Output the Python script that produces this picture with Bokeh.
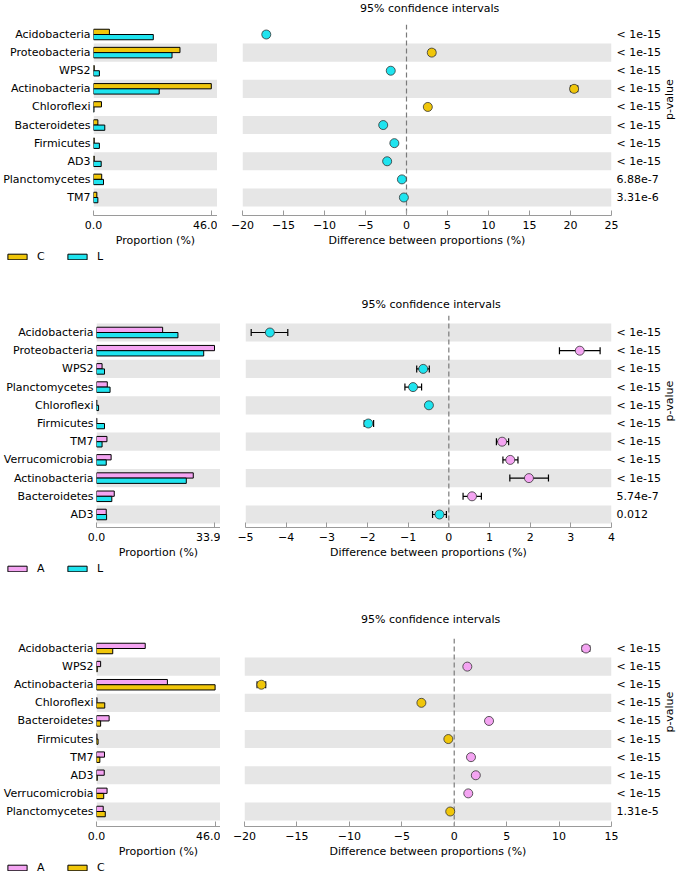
import math
from bokeh.plotting import figure
from bokeh.models import (ColumnDataSource, Range1d, FixedTicker, LinearAxis, Span,
                          Whisker, TeeHead, Legend, LegendItem, CustomJSTickFormatter,
                          PrintfTickFormatter)
from bokeh.transform import dodge
from bokeh.layouts import column, row
from bokeh.embed import file_html
from bokeh.resources import INLINE

FONT = "DejaVu Sans"
GOLD = "#f0c60a"
CYAN = "#1fe4ef"
PINK = "#f4a4f2"
BAND = "#e6e6e6"
AXIS = "#9a9a9a"

# ---------------- Panel 1: C vs L ----------------
names1 = ["Acidobacteria", "Proteobacteria", "WPS2", "Actinobacteria", "Chloroflexi",
          "Bacteroidetes", "Firmicutes", "AD3", "Planctomycetes", "TM7"]
c1 = [6.2, 33.7, 0.3, 45.9, 3.1, 1.7, 0.3, 0.3, 3.2, 1.3]
l1 = [23.3, 30.6, 2.3, 25.6, 0.2, 4.4, 2.3, 3.0, 3.9, 1.7]
diff1 = [-17.1, 3.08, -1.92, 20.44, 2.6, -2.84, -1.48, -2.36, -0.56, -0.32]
lo1 = [-17.45, 2.72, -2.05, 20.0, 2.48, -2.98, -1.6, -2.5, -0.68, -0.42]
hi1 = [-16.75, 3.44, -1.79, 20.88, 2.72, -2.70, -1.36, -2.22, -0.44, -0.22]
pval1 = ["< 1e-15"] * 8 + ["6.88e-7", "3.31e-6"]

# ---------------- Panel 2: A vs L ----------------
names2 = ["Acidobacteria", "Proteobacteria", "WPS2", "Planctomycetes", "Chloroflexi",
          "Firmicutes", "TM7", "Verrucomicrobia", "Actinobacteria", "Bacteroidetes", "AD3"]
a2 = [19.0, 33.9, 1.6, 3.1, 0.1, 0.1, 3.0, 4.2, 27.8, 5.1, 2.8]
l2 = [23.4, 30.8, 2.3, 3.9, 0.6, 2.3, 1.6, 2.8, 25.8, 4.4, 2.9]
diff2 = [-4.40, 3.22, -0.63, -0.88, -0.49, -1.98, 1.31, 1.51, 1.97, 0.57, -0.23]
lo2 = [-4.86, 2.72, -0.79, -1.08, -0.54, -2.08, 1.17, 1.33, 1.50, 0.35, -0.40]
hi2 = [-3.96, 3.72, -0.48, -0.67, -0.44, -1.85, 1.47, 1.70, 2.45, 0.80, -0.06]
pval2 = ["< 1e-15"] * 9 + ["5.74e-7", "0.012"]

# ---------------- Panel 3: A vs C ----------------
names3 = ["Acidobacteria", "WPS2", "Actinobacteria", "Chloroflexi", "Bacteroidetes",
          "Firmicutes", "TM7", "AD3", "Verrucomicrobia", "Planctomycetes"]
a3 = [18.9, 1.6, 27.5, 0.2, 4.9, 0.2, 3.1, 3.0, 4.1, 2.6]
c3 = [6.3, 0.3, 46.0, 3.2, 1.6, 0.6, 1.3, 0.3, 2.8, 3.4]
diff3 = [12.57, 1.25, -18.39, -3.13, 3.32, -0.56, 1.60, 2.06, 1.34, -0.38]
lo3 = [12.22, 1.12, -18.8, -3.27, 3.17, -0.66, 1.47, 1.93, 1.20, -0.52]
hi3 = [12.92, 1.38, -17.98, -2.99, 3.47, -0.46, 1.73, 2.19, 1.48, -0.24]
pval3 = ["< 1e-15"] * 9 + ["1.31e-5"]

prop_axis_max = [46.0, 33.9, 46.0]
diff_ranges = [(-20, 25, 5), (-5, 4, 1), (-20, 15, 5)]
title_text = "95% confidence intervals"

TOTAL_W = 685
DIFF_RIGHT = 617
LEG_H = 14
TITLE_HALF_W = 70


def style_text_axis(ax):
    ax.major_label_text_font = FONT
    ax.major_label_text_font_size = "11px"
    ax.major_label_text_color = "black"
    ax.axis_label_text_font = FONT
    ax.axis_label_text_font_size = "11px"
    ax.axis_label_text_font_style = "normal"
    ax.axis_label_text_color = "black"


def make_panel(names, g1, g1_name, g1_col, g2, g2_name, g2_col, diff, lo, hi, pvals,
               pmax, drange, title_h, H, top, r1, rN, axis_y,
               bar_left, bar_zero_to_max, bar_right, diff_left):
    n = len(names)
    ys = list(range(n - 1, -1, -1))
    s = (rN - r1) / (n - 1)
    y_top = (n - 1) + (r1 - top) / s
    y_bot = -(axis_y - rN) / s
    band_ys = [y for y in ys if y % 2 == 0]
    bottom_border = H - axis_y
    src = ColumnDataSource(dict(y=ys, g1=g1, g2=g2))
    h = 0.29

    # ---------- title strip ----------
    tf = figure(width=TOTAL_W, height=title_h, x_range=Range1d(0, 1), y_range=Range1d(0, 1),
                x_axis_location=None, y_axis_location=None,
                output_backend="svg", toolbar_location=None,
                min_border_left=0, min_border_right=0,
                min_border_top=max(title_h - 1, 0), min_border_bottom=0)
    tf.outline_line_color = None
    tf.grid.visible = False
    tf.title.text = title_text
    tf.title.align = "left"
    tf.title.offset = (diff_left + DIFF_RIGHT) / 2 - TITLE_HALF_W
    tf.title.text_font = FONT
    tf.title.text_font_size = "11px"
    tf.title.text_font_style = "normal"
    tf.title.text_color = "black"
    tf.title.standoff = 0

    # ---------- bar (proportion) figure ----------
    frame_w = bar_right - bar_left
    xr = Range1d(0, pmax * frame_w / bar_zero_to_max)
    bf = figure(width=bar_right, height=H, x_range=xr, y_range=Range1d(y_bot, y_top),
                output_backend="svg", toolbar_location=None,
                min_border_left=bar_left, min_border_right=0, min_border_top=top,
                min_border_bottom=bottom_border)
    bf.outline_line_color = None
    bf.grid.visible = False
    bands = bf.hbar(y=band_ys, left=xr.start, right=xr.end, height=1.0,
                    fill_color=BAND, line_color=None)
    bands.level = "underlay"
    bf.hbar(y=dodge("y", h / 2), left=0, right="g1", height=h, source=src,
            fill_color=g1_col, line_color="black", line_width=1)
    bf.hbar(y=dodge("y", -h / 2), left=0, right="g2", height=h, source=src,
            fill_color=g2_col, line_color="black", line_width=1)

    yax = bf.yaxis[0]
    yax.ticker = FixedTicker(ticks=ys)
    yax.major_label_overrides = {y: nm for y, nm in zip(ys, names)}
    yax.axis_line_color = None
    yax.major_tick_line_color = None
    yax.minor_tick_line_color = None
    yax.major_tick_out = 0
    yax.major_tick_in = 0
    yax.minor_tick_out = 0
    yax.minor_tick_in = 0
    yax.major_label_standoff = 3
    style_text_axis(yax)

    xax = bf.xaxis[0]
    xax.ticker = FixedTicker(ticks=[0, pmax])
    xax.formatter = PrintfTickFormatter(format="%.1f")
    xax.axis_label = "Proportion (%)"
    xax.axis_line_color = AXIS
    xax.major_tick_line_color = AXIS
    xax.major_tick_in = 5
    xax.major_tick_out = 0
    xax.minor_tick_line_color = None
    xax.axis_label_standoff = 2
    style_text_axis(xax)

    # ---------- difference figure ----------
    d0, d1, dstep = drange
    df = figure(width=TOTAL_W - bar_right, height=H, x_range=Range1d(d0, d1),
                y_range=Range1d(y_bot, y_top), y_axis_location=None,
                output_backend="svg", toolbar_location=None,
                min_border_left=diff_left - bar_right,
                min_border_right=TOTAL_W - DIFF_RIGHT, min_border_top=top,
                min_border_bottom=bottom_border)
    df.outline_line_color = None
    df.grid.visible = False
    dbands = df.hbar(y=band_ys, left=d0, right=d1, height=1.0,
                     fill_color=BAND, line_color=None)
    dbands.level = "underlay"
    zero = Span(location=0, dimension="height", line_color="#7a7a7a",
                line_dash="5 3", line_width=1.2, level="underlay")
    df.add_layout(zero)

    cols = [g1_col if d > 0 else g2_col for d in diff]
    dsrc = ColumnDataSource(dict(y=ys, d=diff, lo=lo, hi=hi, c=cols))
    wh = Whisker(base="y", lower="lo", upper="hi", dimension="width", source=dsrc,
                 line_color="black", line_width=1.2, level="underlay",
                 upper_head=TeeHead(size=7, line_color="black", line_width=1.2),
                 lower_head=TeeHead(size=7, line_color="black", line_width=1.2))
    df.add_layout(wh)
    df.scatter(x="d", y="y", source=dsrc, size=9, fill_color="c",
               line_color="#333333", line_width=0.8)

    dx = df.xaxis[0]
    dx.ticker = FixedTicker(ticks=list(range(d0, d1 + 1, dstep)))
    dx.formatter = CustomJSTickFormatter(
        code="return (tick < 0 ? '\u2212' : '') + Math.abs(tick).toString();")
    dx.axis_label = "Difference between proportions (%)"
    dx.axis_line_color = AXIS
    dx.major_tick_line_color = AXIS
    dx.major_tick_in = 5
    dx.major_tick_out = 0
    dx.minor_tick_line_color = None
    dx.axis_label_standoff = 2
    style_text_axis(dx)

    rax = LinearAxis(ticker=FixedTicker(ticks=ys),
                     major_label_overrides={y: pv for y, pv in zip(ys, pvals)},
                     axis_label="p-value")
    rax.axis_line_color = None
    rax.major_tick_line_color = None
    rax.minor_tick_line_color = None
    rax.major_tick_out = 0
    rax.major_tick_in = 0
    rax.minor_tick_out = 0
    rax.minor_tick_in = 0
    rax.major_label_standoff = 5
    rax.axis_label_standoff = 6
    style_text_axis(rax)
    try:
        rax.axis_label_orientation = math.pi / 2
    except Exception:
        pass
    df.add_layout(rax, "right")

    # ---------- legend strip ----------
    lf = figure(width=TOTAL_W, height=LEG_H, x_range=Range1d(0, 1), y_range=Range1d(0, 1),
                x_axis_location=None, y_axis_location=None,
                output_backend="svg", toolbar_location=None,
                min_border_left=0, min_border_right=0, min_border_top=0,
                min_border_bottom=0)
    lf.outline_line_color = None
    lf.grid.visible = False
    lr1 = lf.hbar(y="y", left=0, right="g1", height=h, source=src,
                  fill_color=g1_col, line_color="black", line_width=1, visible=False)
    lr2 = lf.hbar(y="y", left=0, right="g2", height=h, source=src,
                  fill_color=g2_col, line_color="black", line_width=1, visible=False)
    leg = Legend(items=[LegendItem(label=g1_name, renderers=[lr1]),
                        LegendItem(label=g2_name, renderers=[lr2])],
                 orientation="horizontal", location=(5, 0),
                 padding=0, margin=0, spacing=20, label_standoff=8,
                 glyph_width=24, glyph_height=7, label_height=10, label_width=8,
                 border_line_color=None, background_fill_alpha=0,
                 inactive_fill_alpha=0,
                 label_text_font=FONT, label_text_font_size="11px",
                 label_text_color="black")
    lf.add_layout(leg)

    return column(tf, row(bf, df), lf)


p1 = make_panel(names1, c1, "C", GOLD, l1, "L", CYAN, diff1, lo1, hi1, pval1,
                prop_axis_max[0], diff_ranges[0], title_h=14,
                H=235, top=10, r1=20, rN=183, axis_y=201,
                bar_left=92, bar_zero_to_max=119, bar_right=217, diff_left=242)
p2 = make_panel(names2, a2, "A", PINK, l2, "L", CYAN, diff2, lo2, hi2, pval2,
                prop_axis_max[1], diff_ranges[1], title_h=48,
                H=250, top=4, r1=21, rN=203, axis_y=216,
                bar_left=96, bar_zero_to_max=118, bar_right=220, diff_left=245)
p3 = make_panel(names3, a3, "A", PINK, c3, "C", GOLD, diff3, lo3, hi3, pval3,
                prop_axis_max[2], diff_ranges[2], title_h=51,
                H=234, top=12, r1=22, rN=185, axis_y=200,
                bar_left=96, bar_zero_to_max=118.6, bar_right=220, diff_left=244)

p = column(p1, p2, p3)

open("out.html", "w", encoding="utf-8").write(file_html(p, INLINE))
